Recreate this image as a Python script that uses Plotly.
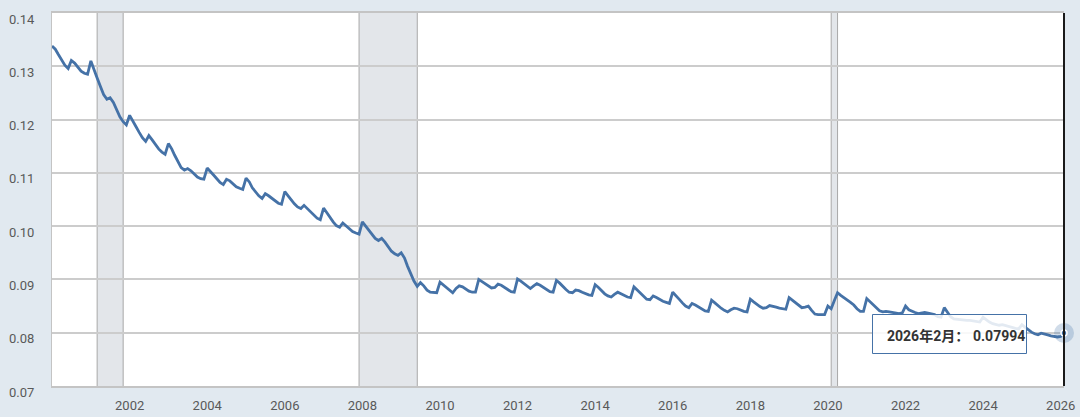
import pandas as pd
import plotly.graph_objects as go

# ---- data (monthly) ----
values_2000s = [
    0.1338, 0.1332, 0.1322, 0.1311, 0.1302, 0.1296, 0.1311, 0.1306, 0.1298, 0.1291, 0.1287, 0.1285,
    0.1310, 0.1295, 0.1278, 0.1262, 0.1247, 0.1238, 0.1241, 0.1232, 0.1218, 0.1205, 0.1196, 0.1190,
    0.1208, 0.1198, 0.1187, 0.1176, 0.1166, 0.1159, 0.1170, 0.1162, 0.1153, 0.1145, 0.1139, 0.1135,
    0.1155, 0.1145, 0.1133, 0.1121, 0.1110, 0.1105, 0.1108, 0.1104, 0.1098, 0.1092, 0.1089, 0.1088,
    0.1109, 0.1103, 0.1096, 0.1089, 0.1082, 0.1078, 0.1088, 0.1085, 0.1079, 0.1074, 0.1071, 0.1069,
    0.1090, 0.1083, 0.1072, 0.1064, 0.1057, 0.1052, 0.1061, 0.1057, 0.1052, 0.1047, 0.1043, 0.1041,
    0.1065, 0.1057, 0.1049, 0.1042, 0.1036, 0.1033, 0.1039, 0.1033, 0.1026, 0.1020, 0.1015, 0.1012,
    0.1034, 0.1025, 0.1016, 0.1008, 0.1001, 0.0998, 0.1006, 0.1001, 0.0995, 0.0990, 0.0987, 0.0985,
    0.1008, 0.1000, 0.0991, 0.0983, 0.0977, 0.0973, 0.0977, 0.0970, 0.0961, 0.0953, 0.0948, 0.0945,
    0.0950, 0.0940, 0.0925, 0.0910, 0.0897, 0.0887, 0.0894, 0.0888, 0.0880, 0.0876, 0.0875, 0.0875,
]
values_2010s = [
    0.0895, 0.0890, 0.0884, 0.0879, 0.0875, 0.0883, 0.0888, 0.0886, 0.0882, 0.0878, 0.0876, 0.0876,
    0.0900, 0.0896, 0.0891, 0.0887, 0.0884, 0.0885, 0.0891, 0.0889, 0.0885, 0.0880, 0.0877, 0.0876,
    0.0901, 0.0897, 0.0892, 0.0887, 0.0883, 0.0888, 0.0892, 0.0889, 0.0885, 0.0880, 0.0877, 0.0876,
    0.0898, 0.0893, 0.0887, 0.0881, 0.0876, 0.0875, 0.0880, 0.0879, 0.0876, 0.0873, 0.0871, 0.0870,
    0.0890, 0.0885, 0.0879, 0.0873, 0.0869, 0.0867, 0.0872, 0.0876, 0.0873, 0.0870, 0.0867, 0.0866,
    0.0886, 0.0880, 0.0874, 0.0868, 0.0863, 0.0862, 0.0869, 0.0866, 0.0862, 0.0859, 0.0857, 0.0855,
    0.0876, 0.0870, 0.0863, 0.0856, 0.0850, 0.0847, 0.0855, 0.0852, 0.0848, 0.0844, 0.0841, 0.0840,
    0.0861, 0.0856, 0.0851, 0.0846, 0.0842, 0.0839, 0.0843, 0.0846, 0.0845, 0.0842, 0.0840, 0.0839,
    0.0863, 0.0858, 0.0853, 0.0849, 0.0846, 0.0847, 0.0851, 0.0850, 0.0848, 0.0846, 0.0845, 0.0844,
    0.0866, 0.0861, 0.0856, 0.0851, 0.0847, 0.0848, 0.0850, 0.0842, 0.0835, 0.0834, 0.0834, 0.0834,
]
values_2020s = [
    0.0850, 0.0845, 0.0860, 0.0875, 0.0870, 0.0866, 0.0862, 0.0857, 0.0852, 0.0845, 0.0840, 0.0840,
    0.0864, 0.0858, 0.0852, 0.0846, 0.0841, 0.0839, 0.0840, 0.0839, 0.0838, 0.0837, 0.0836, 0.0837,
    0.0850, 0.0843, 0.0840, 0.0838, 0.0836, 0.0837, 0.0838, 0.0837, 0.0836, 0.0834, 0.0830, 0.0829,
    0.0847, 0.0838, 0.0830, 0.0826, 0.0825, 0.0824, 0.0824, 0.0823, 0.0823, 0.0822, 0.0821, 0.0820,
    0.0829, 0.0824, 0.0820, 0.0817, 0.0815, 0.0814, 0.0815, 0.0813, 0.0811, 0.0810, 0.0808, 0.0807,
    0.0815, 0.0810, 0.0805, 0.0801, 0.0798, 0.0796, 0.0799, 0.0798, 0.0796, 0.0794, 0.0793, 0.0792,
    0.0793, 0.07994,
]
start_month = "2000-01-01"

recession_starts = ["2001-03-01", "2007-12-01", "2020-02-01"]
recession_ends = ["2001-11-01", "2009-06-01", "2020-04-01"]

y_ticks = [0.07, 0.08, 0.09, 0.10, 0.11, 0.12, 0.13, 0.14]
x_tick_years = [2002, 2004, 2006, 2008, 2010, 2012, 2014, 2016, 2018, 2020, 2022, 2024, 2026]

# ---- build ----
values = values_2000s + values_2010s + values_2020s
dates = pd.date_range(start_month, periods=len(values), freq="MS")
last_date = dates[-1]
last_val = values[-1]

LINE = "#4572a7"
FONT = "Roboto, 'Noto Sans CJK SC', sans-serif"

fig = go.Figure()
fig.add_trace(go.Scatter(
    x=dates, y=values, mode="lines",
    line=dict(color=LINE, width=2.8), hoverinfo="skip", showlegend=False,
))
# hover halo + point
fig.add_trace(go.Scatter(
    x=[last_date], y=[last_val], mode="markers",
    marker=dict(size=20, color="rgba(69,114,167,0.25)", line=dict(width=0)),
    cliponaxis=False, hoverinfo="skip", showlegend=False,
))
fig.add_trace(go.Scatter(
    x=[last_date], y=[last_val], mode="markers",
    marker=dict(size=6, color=LINE, line=dict(width=1.5, color="#ffffff")),
    cliponaxis=False, hoverinfo="skip", showlegend=False,
))

shapes = []
for s, e in zip(recession_starts, recession_ends):
    shapes.append(dict(type="rect", xref="x", yref="paper", x0=s, x1=e, y0=0, y1=1,
                       fillcolor="#e3e6ea", line=dict(width=0), layer="below"))
    for edge in (s, e):
        shapes.append(dict(type="line", xref="x", yref="paper", x0=edge, x1=edge, y0=0, y1=1,
                           line=dict(color="#a8a8a8", width=1), layer="below"))

L, R, T, B = 52, 1064, 13, 386
def px(xp):
    return (xp - L) / (R - L)
def py(yp):
    return (B - yp) / (B - T)

# crosshair at hovered point (last date = right edge of the plot)
shapes.append(dict(type="line", xref="paper", yref="paper", x0=1.0, x1=1.0, y0=0, y1=1,
                   line=dict(color="#1a1a1a", width=2), layer="above"))

# tooltip box (paper coords)
bx0, bx1, by0, by1 = px(872.5), px(1026.5), py(353.5), py(314.5)
shapes.append(dict(type="rect", xref="paper", yref="paper", x0=bx0, x1=bx1, y0=by0, y1=by1,
                   fillcolor="rgba(255,255,255,0.85)", line=dict(color=LINE, width=1),
                   layer="above"))

date_label = f"{last_date.year}年{last_date.month}月："
annotations = [
    dict(xref="paper", yref="paper", x=px(885), y=py(335.5), xanchor="left", yanchor="middle",
         text=f"<b>{date_label}</b>", showarrow=False,
         font=dict(family=FONT, size=14, color="#333333")),
    dict(xref="paper", yref="paper", x=px(1026.5), y=py(335.5), xanchor="right", yanchor="middle",
         text=f"<b>{last_val:.5f}</b>", showarrow=False,
         font=dict(family=FONT, size=14, color="#333333")),
]

fig.update_layout(
    width=1080, height=417,
    margin=dict(l=L, r=1080 - R, t=T, b=417 - B, pad=0, autoexpand=False),
    paper_bgcolor="#e1e9f0", plot_bgcolor="#ffffff",
    font=dict(family=FONT, size=13, color="#595959"),
    shapes=shapes, annotations=annotations, showlegend=False,
)
fig.update_xaxes(
    type="date", range=[start_month, last_date], automargin=False,
    tickvals=[f"{y}-01-01" for y in x_tick_years], ticktext=[str(y) for y in x_tick_years],
    showgrid=False, showline=True, linecolor="#c4c4c4", linewidth=1.5, mirror=True,
    ticks="", ticklabelstandoff=7, zeroline=False,
    tickfont=dict(family=FONT, size=13, color="#595959"),
)
fig.update_yaxes(
    range=[0.07, 0.14], tickvals=y_ticks, tickformat=".2f", automargin=False,
    showgrid=True, gridcolor="#cccccc", gridwidth=1.5,
    showline=True, linecolor="#c4c4c4", linewidth=1, zeroline=False,
    ticks="", ticklabelposition="outside", ticklabelshift=6, ticklabelstandoff=14,
    tickfont=dict(family=FONT, size=13, color="#595959"),
)

fig.write_html(
    "out.html",
    config={"displayModeBar": False},
    post_script="document.body.style.margin='0';document.body.style.overflow='hidden';",
)
